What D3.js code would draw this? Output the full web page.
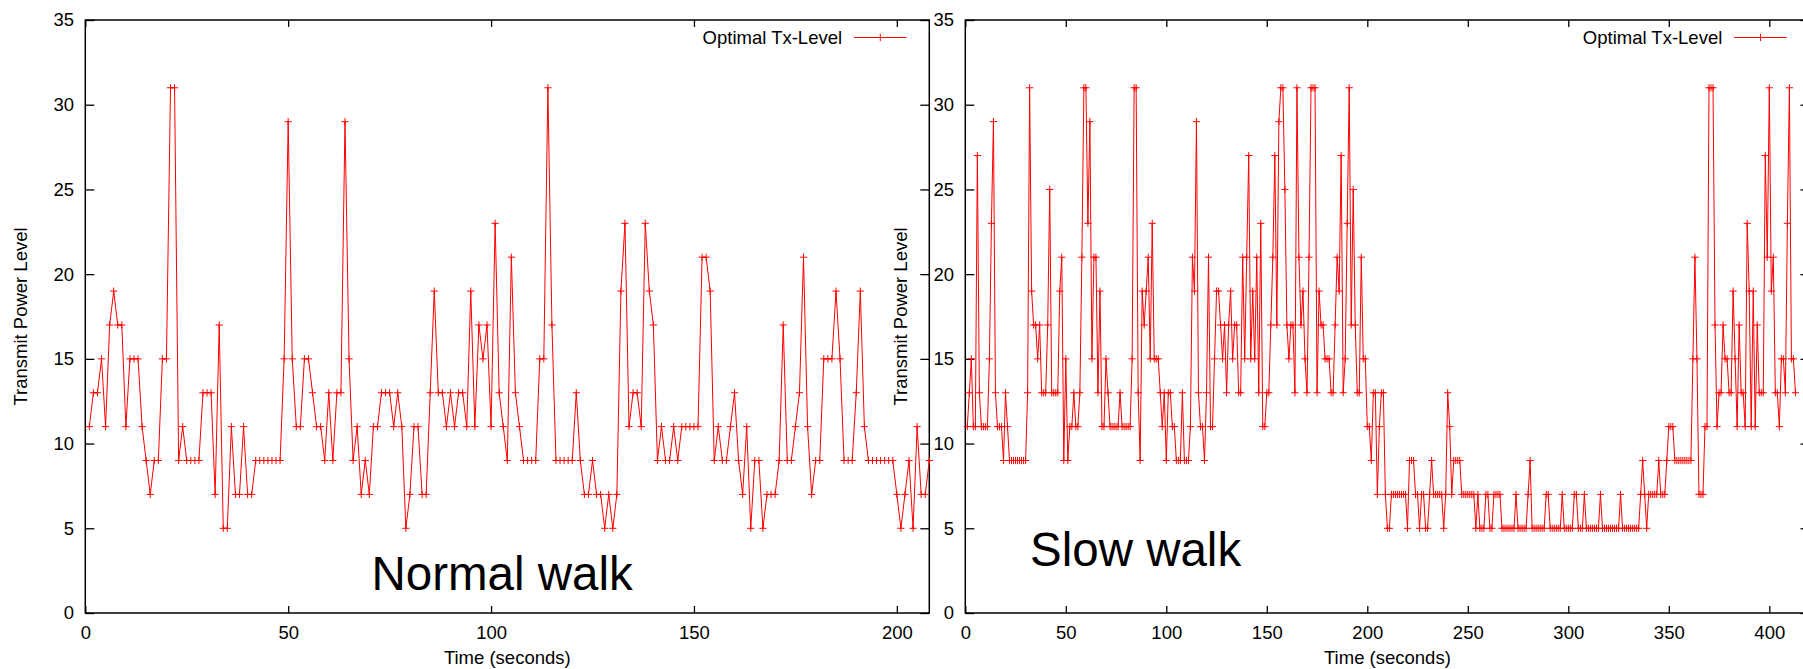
<!DOCTYPE html>
<html>
<head>
<meta charset="utf-8">
<script src="https://cdn.jsdelivr.net/npm/d3@7"></script>
<style>
  body { margin: 0; background: #fff; }
  svg { display: block; }
  text { font-family: "Liberation Sans", Arial, Helvetica, sans-serif; fill: #000; }
</style>
</head>
<body>
<svg id="chart" width="1803" height="669"></svg>
<script>
// Optimal transmit power level, one sample per second (first sample at t = 1 s)
const normalWalk = [
  11,13,13,15,11,17,19,17,17,11,
  15,15,15,11,9,7,9,9,15,15,
  31,31,9,11,9,9,9,9,13,13,
  13,7,17,5,5,11,7,7,11,7,
  7,9,9,9,9,9,9,9,15,29,
  15,11,11,15,15,13,11,11,9,13,
  9,13,13,29,15,9,11,7,9,7,
  11,11,13,13,13,11,13,11,5,7,
  11,11,7,7,13,19,13,13,11,13,
  11,13,13,11,19,11,17,15,17,11,
  23,13,11,9,21,13,11,9,9,9,
  9,15,15,31,17,9,9,9,9,9,
  13,9,7,7,9,7,7,5,7,5,
  7,19,23,11,13,13,11,23,19,17,
  9,11,9,9,11,9,11,11,11,11,
  11,21,21,19,9,11,9,9,11,13,
  9,7,11,5,9,9,5,7,7,7,
  9,17,9,9,11,13,21,11,7,9,
  9,15,15,15,19,15,9,9,9,13,
  19,11,9,9,9,9,9,9,9,7,
  5,7,9,5,11,7,7,9
];

const slowWalk = [
  11,13,15,11,11,27,13,11,11,11,
  11,15,23,29,13,11,11,11,9,13,
  11,9,9,9,9,9,9,9,9,9,
  13,31,19,17,17,15,17,13,13,13,
  17,25,13,13,13,13,19,21,9,15,
  9,11,11,13,11,11,13,21,31,31,
  23,29,15,21,21,13,19,11,11,15,
  13,11,11,11,11,11,13,11,11,11,
  11,11,15,31,31,13,9,19,17,19,
  21,15,23,15,15,15,13,11,13,9,
  13,13,11,11,9,9,9,13,9,9,
  9,11,21,19,29,13,11,11,9,13,
  21,11,11,15,19,19,17,15,17,13,
  17,19,15,17,17,13,13,21,15,21,
  27,15,19,15,21,13,23,11,11,13,
  13,17,21,27,17,29,31,31,25,17,
  15,17,17,13,31,21,17,19,15,13,
  21,31,31,31,13,19,17,17,15,15,
  15,13,13,17,21,19,27,13,15,23,
  31,17,25,17,13,13,21,15,15,11,
  11,9,13,13,7,11,13,13,7,5,
  5,7,7,7,7,7,7,7,7,5,
  9,9,9,7,7,5,7,7,5,5,
  7,9,7,7,7,7,7,5,7,13,
  11,7,9,9,9,9,7,7,7,7,
  7,7,7,5,7,5,5,5,7,7,
  5,5,7,7,7,7,5,5,5,5,
  5,5,5,7,5,5,5,5,5,7,
  9,5,5,5,5,5,5,5,7,7,
  5,5,5,5,5,5,7,5,5,5,
  5,5,7,7,5,5,5,7,5,5,
  5,5,5,5,5,7,5,5,5,5,
  5,5,5,5,5,7,5,5,5,5,
  5,5,5,5,5,7,9,7,5,7,
  7,7,7,7,9,7,7,7,9,11,
  11,11,9,9,9,9,9,9,9,9,
  9,15,21,15,7,7,7,11,11,31,
  31,31,17,11,13,13,17,15,15,13,
  13,19,15,11,17,13,13,11,23,19,
  11,19,11,17,13,13,13,27,21,31,
  19,21,13,13,11,15,15,13,23,31,
  15,15,13
];

const yTickValues = [0, 5, 10, 15, 20, 25, 30, 35];
const normalTimeTicks = [0, 50, 100, 150, 200];
const slowTimeTicks = [0, 50, 100, 150, 200, 250, 300, 350, 400];

const panels = [
  { values: normalWalk, xMax: 208, xTicks: normalTimeTicks, left: 85.3, right: 929.3,
    title: "Normal walk", titleX: 371.5, titleY: 590 },
  { values: slowWalk, xMax: 420, xTicks: slowTimeTicks, left: 965.3, right: 1809.5,
    title: "Slow walk", titleX: 1030, titleY: 566 }
];

const plotTop = 20, plotBottom = 613;
const FONT = 18.5;
const RED = "#ff0000";
const svg = d3.select("#chart");

panels.forEach(p => {
  const x = d3.scaleLinear().domain([0, p.xMax]).range([p.left, p.right]);
  const y = d3.scaleLinear().domain([0, 35]).range([plotBottom, plotTop]);
  const points = p.values.map((v, i) => ({ t: i + 1, v }));
  const g = svg.append("g");

  // frame
  g.append("rect")
    .attr("x", p.left).attr("y", plotTop)
    .attr("width", p.right - p.left).attr("height", plotBottom - plotTop)
    .attr("fill", "none").attr("stroke", "#000").attr("stroke-width", 1.5);

  const styleAxis = sel => {
    sel.attr("font-size", FONT).attr("font-family", '"Liberation Sans", Arial, sans-serif');
    sel.select(".domain").remove();
    sel.selectAll(".tick line").attr("stroke", "#000").attr("stroke-width", 1.3);
    sel.selectAll(".tick text").attr("fill", "#000");
  };

  // bottom axis with inward ticks and labels
  g.append("g").attr("transform", `translate(0,${plotBottom})`)
    .call(d3.axisBottom(x).tickValues(p.xTicks).tickSizeInner(-7).tickSizeOuter(0).tickPadding(12.5))
    .call(styleAxis);
  // mirrored top ticks
  g.append("g").attr("transform", `translate(0,${plotTop})`)
    .call(d3.axisTop(x).tickValues(p.xTicks).tickSizeInner(-7).tickSizeOuter(0).tickFormat(""))
    .call(styleAxis);
  // left axis
  g.append("g").attr("transform", `translate(${p.left},0)`)
    .call(d3.axisLeft(y).tickValues(yTickValues).tickSizeInner(-9).tickSizeOuter(0).tickPadding(11.3))
    .call(styleAxis);
  // mirrored right ticks
  g.append("g").attr("transform", `translate(${p.right},0)`)
    .call(d3.axisRight(y).tickValues(yTickValues).tickSizeInner(-9).tickSizeOuter(0).tickFormat(""))
    .call(styleAxis);

  // series line
  const line = d3.line().x(d => x(d.t)).y(d => y(d.v));
  g.append("path").datum(points)
    .attr("d", line)
    .attr("fill", "none").attr("stroke", RED).attr("stroke-width", 1)
    .attr("stroke-linejoin", "miter");

  // "+" point markers
  const s = 3.6;
  g.append("path")
    .attr("d", points.map(d => {
      const cx = x(d.t), cy = y(d.v);
      return `M${cx - s},${cy}H${cx + s}M${cx},${cy - s}V${cy + s}`;
    }).join(""))
    .attr("fill", "none").attr("stroke", RED).attr("stroke-width", 1);

  // axis titles
  g.append("text")
    .attr("x", (p.left + p.right) / 2).attr("y", 664)
    .attr("text-anchor", "middle").attr("font-size", FONT)
    .text("Time (seconds)");
  g.append("text")
    .attr("transform", `translate(${p.left - 58.7},${(plotTop + plotBottom) / 2}) rotate(-90)`)
    .attr("text-anchor", "middle").attr("font-size", FONT)
    .text("Transmit Power Level");

  // legend
  const legY = 37.5;
  g.append("text")
    .attr("x", p.right - 87.2).attr("y", legY + 6.3)
    .attr("text-anchor", "end").attr("font-size", FONT)
    .text("Optimal Tx-Level");
  const lx0 = p.right - 75.2, lx1 = p.right - 22.8, lmx = (lx0 + lx1) / 2;
  g.append("path")
    .attr("d", `M${lx0},${legY}H${lx1}M${lmx - s},${legY}H${lmx + s}M${lmx},${legY - s}V${legY + s}`)
    .attr("fill", "none").attr("stroke", RED).attr("stroke-width", 1);

  // panel caption
  g.append("text")
    .attr("x", p.titleX).attr("y", p.titleY)
    .attr("font-size", 47.5)
    .text(p.title);
});
</script>
</body>
</html>
